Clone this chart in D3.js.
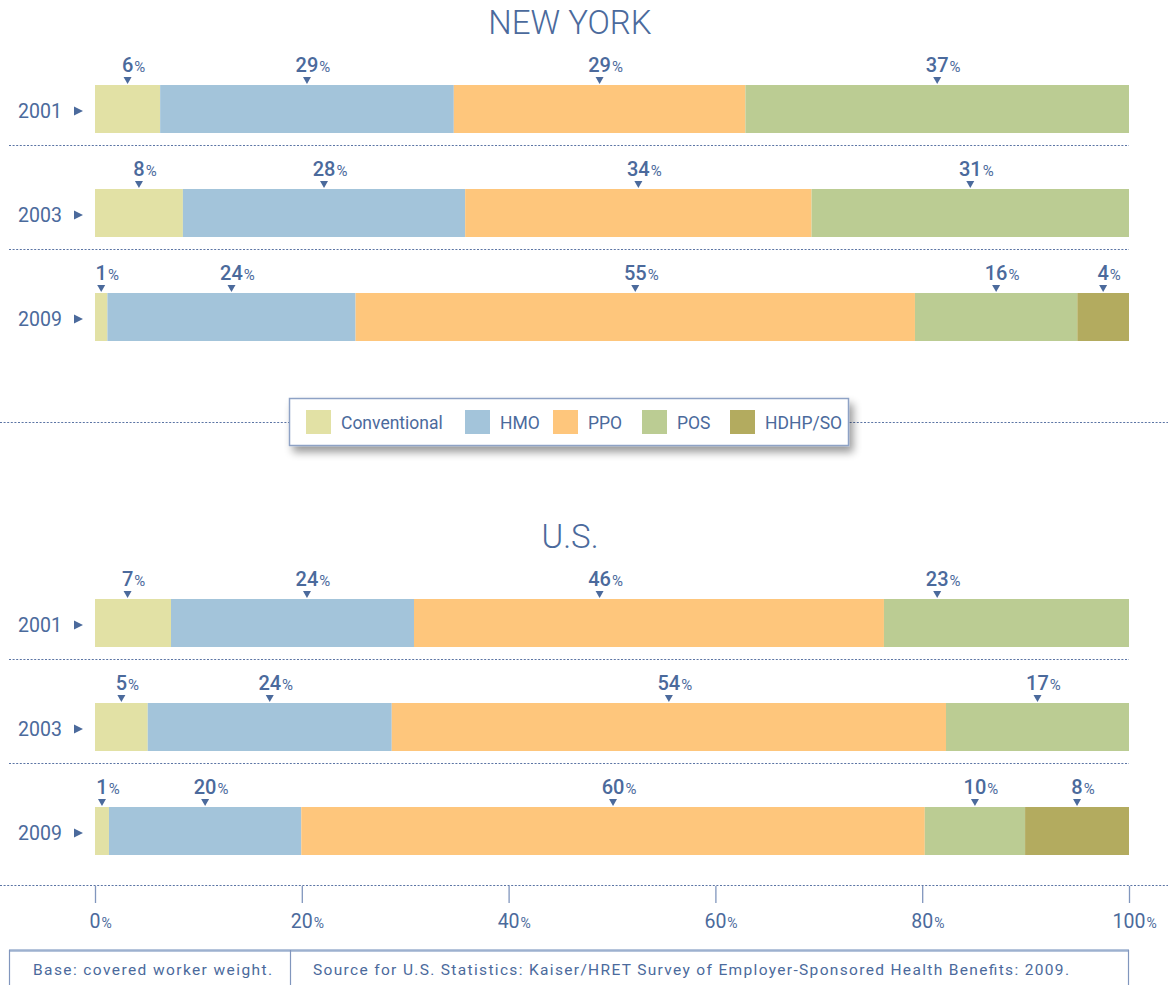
<!DOCTYPE html>
<html><head><meta charset="utf-8">
<script src="https://cdn.jsdelivr.net/npm/d3@7"></script>
<style>
body{margin:0;background:#fff}
svg{display:block}
text{font-family:Roboto,"DejaVu Sans",sans-serif}
</style>
</head><body>
<svg id="c" width="1168" height="985"></svg>
<script>
// ---- data ----
const categories = ["Conventional", "HMO", "PPO", "POS", "HDHP/SO"];
const colors = ["#e2e1a5", "#a3c4da", "#fec67c", "#bbcc93", "#b3ab5f"];
const years = ["2001", "2003", "2009"];
// segment shares (%)
const nyValues = [
  [6.3, 28.4, 28.2, 37.1, 0],
  [8.5, 27.3, 33.5, 30.7, 0],
  [1.2, 24.0, 54.1, 15.7, 5.0]
];
const nyLabels = [
  [6, 29, 29, 37, null],
  [8, 28, 34, 31, null],
  [1, 24, 55, 16, 4]
];
const usValues = [
  [7.35, 23.5, 45.45, 23.7, 0],
  [5.1, 23.6, 53.6, 17.7, 0],
  [1.35, 18.6, 60.3, 9.7, 10.05]
];
const usLabels = [
  [7, 24, 46, 23, null],
  [5, 24, 54, 17, null],
  [1, 20, 60, 10, 8]
];
// rows whose segment midpoints place the value labels (the original places
// the U.S. 2001 labels over the New York 2001 segment midpoints)
const nyLabelAnchors = [nyValues[0], nyValues[1], nyValues[2]];
const usLabelAnchors = [nyValues[0], usValues[1], usValues[2]];
const xTicks = [0, 20, 40, 60, 80, 100];
const panelTitles = ["NEW YORK", "U.S."];
const footerLeft = "Base: covered worker weight.";
const footerRight = "Source for U.S. Statistics: Kaiser/HRET Survey of Employer-Sponsored Health Benefits: 2009.";

// ---- layout ----
const TXT = "#4b6a9c";
const DASH = "#5b74a4";
const svg = d3.select("#c");
const x = d3.scaleLinear().domain([0, 100]).range([95, 1129]);

const panels = [
  {title: panelTitles[0], values: nyValues, labels: nyLabels, anchors: nyLabelAnchors, titleY: 34, top: 85},
  {title: panelTitles[1], values: usValues, labels: usLabels, anchors: usLabelAnchors, titleY: 548, top: 599}
];

function dashed(x1, x2, y) {
  svg.append("line").attr("x1", x1).attr("x2", x2).attr("y1", y).attr("y2", y)
    .attr("stroke", DASH).attr("stroke-width", 1).attr("stroke-dasharray", "2,1.6");
}

function pctLabel(g, cx, y, num, numSize, pctSize, wt) {
  const t = g.append("text").attr("y", y).attr("fill", TXT);
  const n = t.append("tspan").text(num).attr("font-size", numSize).attr("font-weight", wt);
  t.append("tspan").text("%").attr("font-size", pctSize).attr("font-weight", 400).attr("dx", 1);
  const w = n.node().getComputedTextLength();
  t.attr("x", cx - w / 2);
}

panels.forEach(p => {
  svg.append("text").attr("x", 570).attr("y", p.titleY).attr("text-anchor", "middle")
    .attr("font-size", 33).attr("font-weight", 300).attr("fill", TXT).text(p.title);

  const y = d3.scaleBand().domain(years).range([p.top, p.top + 104 * 2 + 48]).paddingInner(56 / 104).paddingOuter(0);

  years.forEach((yr, i) => {
    const top = y(yr), h = y.bandwidth();
    const g = svg.append("g");
    const vals = p.values[i];
    const cum = [0, ...d3.cumsum(vals)];
    const acum = [0, ...d3.cumsum(p.anchors[i])];
    const segs = vals.map((v, k) => ({k, v, s: cum[k], e: cum[k + 1], lab: p.labels[i][k],
      mid: (acum[k] + acum[k + 1]) / 2}));

    g.selectAll("rect").data(segs.filter(d => d.v > 0)).join("rect")
      .attr("x", d => x(d.s)).attr("width", d => x(d.e) - x(d.s))
      .attr("y", top).attr("height", h).attr("fill", d => colors[d.k]);

    segs.filter(d => d.lab !== null).forEach(d => {
      const cx = x(d.mid);
      g.append("path").attr("d", `M${cx - 4},${top - 8}L${cx + 4},${top - 8}L${cx},${top - 1}Z`).attr("fill", TXT);
      pctLabel(g, cx, top - 13, d.lab, 20, 15, 500);
    });

    // year label + arrow
    g.append("text").attr("x", 18).attr("y", top + 33).attr("font-size", 19.5).attr("font-weight", 400)
      .attr("fill", TXT).text(yr);
    const cy = top + 26;
    g.append("path").attr("d", `M74,${cy - 4.5}L83,${cy}L74,${cy + 4.5}Z`).attr("fill", TXT);

    if (i < years.length - 1) dashed(9, 1129, top + 60.5);
  });
});

// middle separator (behind legend) and bottom separator
dashed(0, 1168, 422.5);
dashed(0, 1168, 885.5);

// ---- axis ----
const axis = svg.append("g").attr("transform", "translate(0,886)")
  .call(d3.axisBottom(x).tickValues(xTicks).tickSize(17).tickFormat(""));
axis.select(".domain").remove();
axis.selectAll(".tick line").attr("stroke", "#8196bd").attr("stroke-width", 1.3);
xTicks.forEach(t => pctLabel(svg, x(t), 928, t, 19.5, 14, 400));

// ---- legend ----
const defs = svg.append("defs");
const f = defs.append("filter").attr("id", "sh").attr("x", "-10%").attr("y", "-40%").attr("width", "130%").attr("height", "200%");
f.append("feGaussianBlur").attr("in", "SourceAlpha").attr("stdDeviation", 4).attr("result", "b");
f.append("feOffset").attr("in", "b").attr("dx", 4).attr("dy", 6).attr("result", "o");
f.append("feComponentTransfer").attr("in", "o").attr("result", "o2")
  .append("feFuncA").attr("type", "linear").attr("slope", 0.4);
const m = f.append("feMerge");
m.append("feMergeNode").attr("in", "o2");
m.append("feMergeNode").attr("in", "SourceGraphic");

const lg = svg.append("g");
lg.append("rect").attr("x", 289.5).attr("y", 398.5).attr("width", 559).attr("height", 47)
  .attr("fill", "#fff").attr("stroke", "#8ea2c5").attr("stroke-width", 1.5).attr("filter", "url(#sh)");
const legendX = [306, 465, 553, 642, 730];
categories.forEach((c, k) => {
  lg.append("rect").attr("x", legendX[k]).attr("y", 410).attr("width", 25).attr("height", 24).attr("fill", colors[k]);
  lg.append("text").attr("x", legendX[k] + 35).attr("y", 429).attr("font-size", 17.5).attr("font-weight", 400)
    .attr("fill", TXT).text(c);
});

// ---- footer ----
svg.append("line").attr("x1", 9).attr("x2", 1129).attr("y1", 950.5).attr("y2", 950.5).attr("stroke", "#9db1cf").attr("stroke-width", 2.5);
[9.5, 290.5, 1128.5].forEach(xx =>
  svg.append("line").attr("x1", xx).attr("x2", xx).attr("y1", 950).attr("y2", 985).attr("stroke", "#8196bd").attr("stroke-width", 1.2));
svg.append("text").attr("x", 33).attr("y", 975).attr("font-size", 15.5).attr("font-weight", 400).attr("fill", TXT)
  .attr("textLength", 239).attr("lengthAdjust", "spacing").text(footerLeft);
svg.append("text").attr("x", 313).attr("y", 975).attr("font-size", 15.5).attr("font-weight", 400).attr("fill", TXT)
  .attr("textLength", 756).attr("lengthAdjust", "spacing").text(footerRight);
</script>
</body></html>
